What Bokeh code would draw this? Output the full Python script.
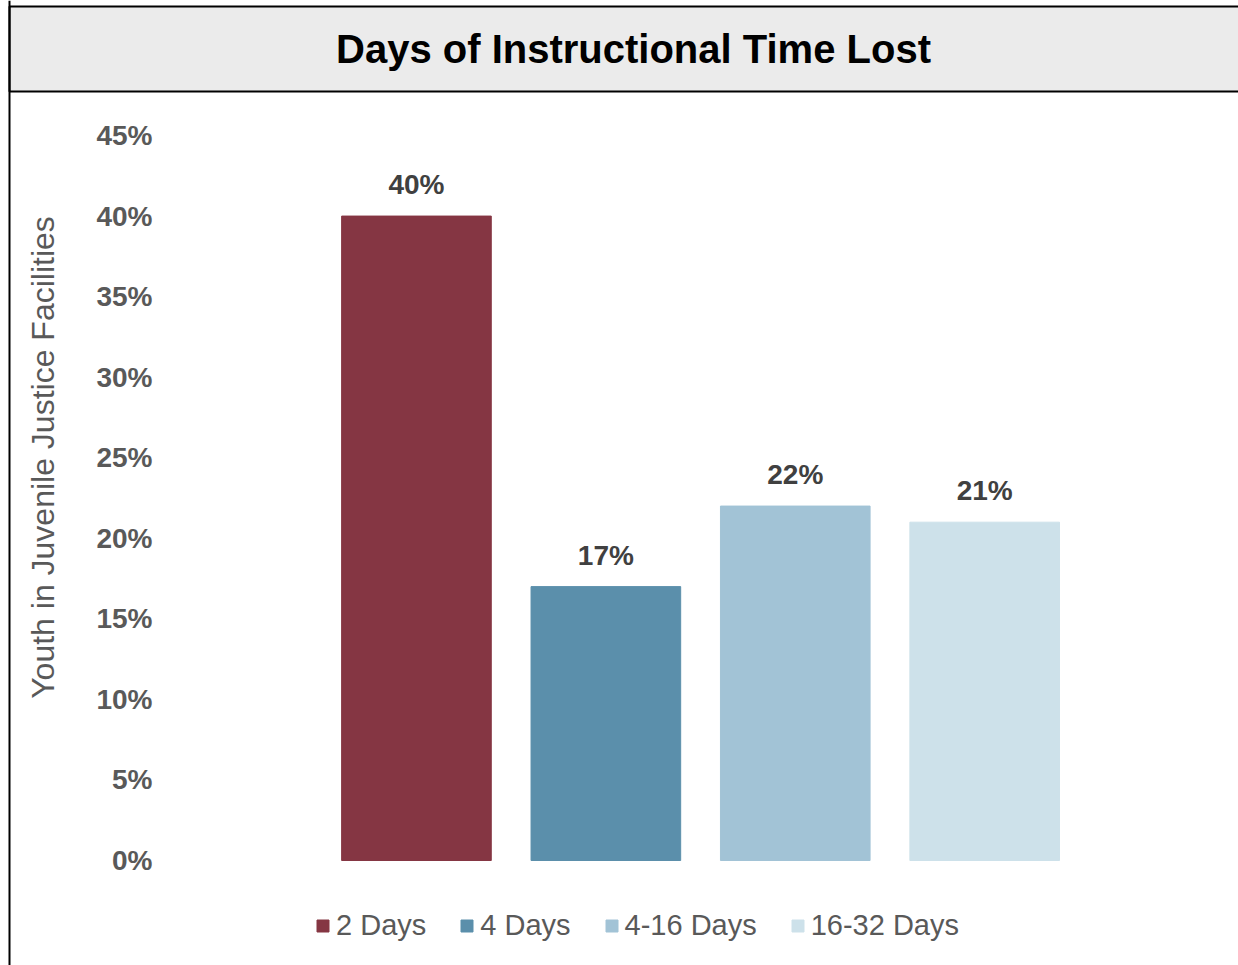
from bokeh.plotting import figure
from bokeh.models import ColumnDataSource, Range1d, LabelSet, Legend, LegendItem, Span
from bokeh.core.properties import value
from bokeh.embed import file_html
from bokeh.resources import INLINE

title_text = "Days of Instructional Time Lost"
y_axis_title = "Youth in Juvenile Justice Facilities"
categories = ["2 Days", "4 Days", "4-16 Days", "16-32 Days"]
values = [40, 17, 22, 21]
value_labels = ["40%", "17%", "22%", "21%"]
colors = ["#853643", "#5b8fab", "#a2c3d6", "#cde1ea"]
y_ticks = [0, 5, 10, 15, 20, 25, 30, 35, 40, 45]
y_tick_labels = ["0%", "5%", "10%", "15%", "20%", "25%", "30%", "35%", "40%", "45%"]

FONT = "Liberation Sans"
W, H = 1238, 965
# ranges chosen so that the frame fills the canvas
X0, X1 = -2.196, 4.340
Y0, Y1 = -6.517, 53.38
px_x = (X1 - X0) / W      # data units per pixel
px_y = (Y1 - Y0) / H

p = figure(width=W, height=H, x_range=Range1d(X0, X1), y_range=Range1d(Y0, Y1),
           min_border=0, toolbar_location=None, output_backend="svg",
           x_axis_location=None, outline_line_color=None)
p.grid.visible = False

# frame: title band and left rule
band_top = Y1 - 6 * px_y
band_bottom = Y1 - 91 * px_y
p.quad(left=[X0 + 9 * px_x], right=[X1 + 10 * px_x], top=[band_top], bottom=[band_bottom],
       fill_color="#ebebeb", line_color="#000000", line_width=2)
p.add_layout(Span(location=X0 + 9 * px_x, dimension="height", line_color="#000000", line_width=2))
p.text(x=[X0 + 633 * px_x], y=[(band_top + band_bottom) / 2], text=[title_text],
       text_align="center", text_baseline="middle", text_font=value(FONT),
       text_font_style="bold", text_font_size="40px", text_color="#000000")

src = ColumnDataSource(dict(x=list(range(len(categories))), top=values, cat=categories,
                            color=colors, lab=value_labels))
r = p.vbar(x="x", top="top", width=0.79, bottom=0, color="color", source=src)

ax = p.yaxis[0]
ax.fixed_location = X0 + 160 * px_x
ax.bounds = (0, 50)
ax.ticker = y_ticks
ax.major_label_overrides = {k: v for k, v in zip(y_ticks, y_tick_labels)}
ax.axis_line_color = None
ax.major_tick_line_color = None
ax.minor_tick_line_color = None
ax.major_label_standoff = 2
ax.major_label_text_font = FONT
ax.major_label_text_font_style = "bold"
ax.major_label_text_font_size = "28px"
ax.major_label_text_color = "#595959"
ax.axis_label = y_axis_title
ax.axis_label_standoff = 32
ax.axis_label_text_font = FONT
ax.axis_label_text_font_style = "normal"
ax.axis_label_text_font_size = "32px"
ax.axis_label_text_color = "#595959"

labels = LabelSet(x="x", y="top", text="lab", source=src, text_align="center",
                  text_baseline="alphabetic", y_offset=22, text_font=value(FONT),
                  text_font_style="bold", text_font_size="28px", text_color="#404040")
p.add_layout(labels)

items = [LegendItem(label=c, renderers=[r], index=i) for i, c in enumerate(categories)]
legend = Legend(items=items, orientation="horizontal", location=(315, 23),
                glyph_width=15, glyph_height=15, label_standoff=6, spacing=33,
                label_text_font=FONT, label_text_font_size="29px", label_text_color="#595959",
                border_line_color=None, background_fill_alpha=0, padding=0, margin=0)
p.add_layout(legend)

open("out.html", "w").write(file_html(p, INLINE))
